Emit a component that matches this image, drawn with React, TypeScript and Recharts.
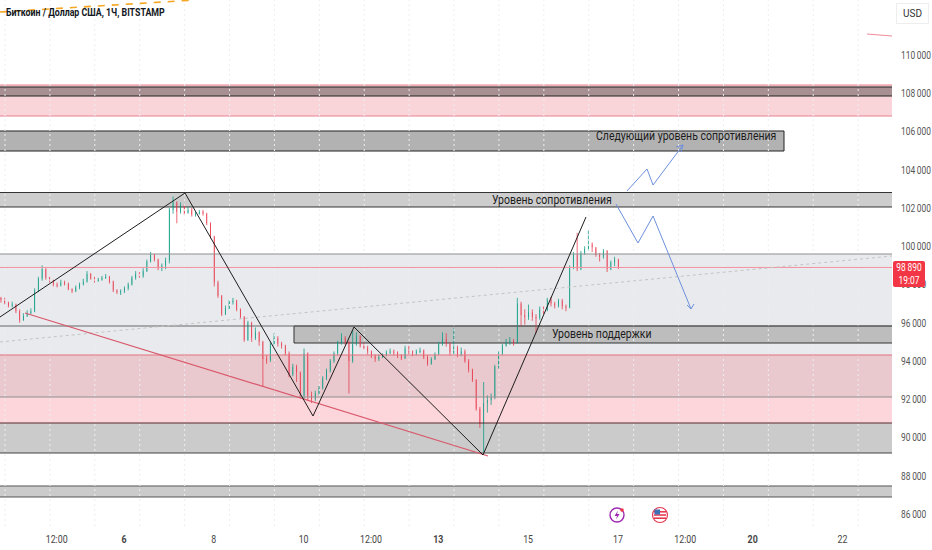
import { ComposedChart, Bar, Line, XAxis, YAxis, ReferenceArea, ReferenceLine } from 'recharts';

// ─── Candles: one entry every two hours ───────────────────────────────────────
const firstDay = 3.26;
const candleStep = 1 / 12;
const firstOpen = 97300;
const closes = [
  97200, 97050, 96900, 96950, 96600, 96140, 96350, 96500, 96600, 97700,
  98300, 98800, 98350, 98200, 98000, 97950, 98100, 98050, 97750, 97650,
  97850, 98000, 98150, 98550, 98300, 98200, 98250, 98350, 98400, 98150,
  97700, 97600, 97650, 97800, 98000, 98350, 98550, 98450, 98700, 99200,
  99550, 99300, 98850, 99000, 99250, 101900, 102300, 101800, 102150, 101750,
  101900, 101650, 101700, 101800, 101700, 101200, 100500, 98100, 97400, 96450,
  96750, 97100, 97150, 96700, 96300, 95100, 96000, 95200, 95500, 95000,
  94100, 94050, 94900, 95200, 94900, 94800, 94400, 93300, 93700, 93400,
  92200, 94400, 92200, 92000, 92300, 92600, 93100, 93500, 94000, 94400,
  94950, 95200, 95000, 94000, 94900, 95300, 94800, 94700, 94500, 94250,
  94100, 94200, 94300, 94450, 94500, 94450, 94300, 94150, 94650, 94500,
  94400, 94500, 94550, 94200, 93850, 94100, 94350, 94900, 95150, 94900,
  94450, 94700, 94350, 94500, 94000, 93550, 93000, 91500, 90700, 91800,
  91950, 92100, 93700, 94400, 94800, 95000, 95050, 94950, 97000, 96400,
  96300, 96550, 96300, 96250, 96700, 96650, 97200, 97000, 96900, 97150,
  96850, 96800, 98900, 99550, 98800, 99650, 99850, 100100, 99950, 99550,
  99450, 99750, 98800, 99150, 99300, 98890,
];
const highs = [
  97350, 97300, 97100, 97100, 97000, 96700, 96500, 96650, 96750, 97800,
  98400, 99000, 98850, 98400, 98250, 98100, 98250, 98200, 98100, 97800,
  97950, 98100, 98300, 98700, 98600, 98400, 98350, 98450, 98550, 98450,
  98200, 97750, 97750, 97900, 98100, 98450, 98700, 98650, 98850, 99300,
  99700, 99600, 99350, 99100, 99400, 102000, 102600, 102350, 102300, 102200,
  102050, 102000, 101800, 101900, 101900, 101750, 101250, 100550, 98200, 97450,
  96900, 97200, 97300, 97200, 96750, 96350, 96100, 96050, 95750, 95550,
  95050, 94300, 95000, 95450, 95300, 95000, 94850, 94500, 93850, 93800,
  93450, 94650, 94450, 92400, 92450, 92700, 93200, 93600, 94100, 94500,
  95050, 95450, 95300, 95050, 95600, 95500, 95350, 94950, 94800, 94550,
  94350, 94350, 94400, 94550, 94650, 94600, 94500, 94350, 94800, 94800,
  94550, 94600, 94700, 94600, 94300, 94200, 94450, 95000, 95500, 95450,
  94950, 95700, 94800, 94700, 94600, 94100, 93600, 93050, 91600, 92900,
  92200, 92300, 93800, 94500, 94900, 95150, 95250, 95150, 97300, 97100,
  96700, 96950, 96700, 96450, 96850, 96850, 97300, 97350, 97100, 97250,
  97250, 96950, 99000, 99700, 100700, 99750, 100000, 100850, 100200, 99950,
  99650, 99850, 99800, 99250, 99450, 99350,
];
const lows = [
  97050, 96950, 96800, 96800, 96500, 96000, 96100, 96300, 96450, 96550,
  97600, 98200, 98250, 98100, 97900, 97850, 97900, 97950, 97700, 97550,
  97600, 97750, 97950, 98100, 98250, 98100, 98150, 98200, 98300, 98050,
  97600, 97500, 97450, 97550, 97700, 97950, 98250, 98350, 98350, 98650,
  99150, 99200, 98750, 98700, 98800, 99100, 101700, 101200, 101700, 101650,
  101700, 101550, 101550, 101650, 101600, 101100, 100400, 97900, 97300, 96350,
  96400, 96700, 96950, 96600, 96200, 95000, 95050, 95000, 95100, 94800,
  92640, 93850, 93950, 94800, 94750, 94650, 94300, 93150, 93200, 92900,
  92050, 92000, 91950, 91800, 91900, 92200, 92500, 93000, 93400, 93900,
  94300, 94850, 94850, 92300, 93900, 94800, 94700, 94600, 94350, 94150,
  93950, 94000, 94150, 94250, 94350, 94300, 94150, 94050, 94100, 94350,
  94250, 94300, 94400, 94100, 93750, 93800, 94050, 94300, 94800, 94750,
  94300, 94350, 94200, 94250, 93900, 93400, 92900, 91400, 90500, 89240,
  91300, 91700, 92000, 93600, 94300, 94750, 94850, 94800, 94900, 95800,
  95900, 96150, 96100, 95450, 96150, 96450, 96600, 96850, 96750, 96800,
  96700, 96600, 96750, 98800, 98700, 98750, 99550, 99750, 99700, 99450,
  99200, 99350, 98650, 98750, 98950, 98800,
];

// ─── Axes ─────────────────────────────────────────────────────────────────────
const dayDomain = [3.238, 23.104];
const priceDomain = [85371, 112876];
const priceTicks = [86000, 88000, 90000, 92000, 94000, 96000, 98000, 100000, 102000, 104000, 106000, 108000, 110000];
const dayTicks = [4.5, 6, 8, 10, 11.5, 13, 15, 17, 18.5, 20, 22];
const dayLabels = ['12:00', '6', '8', '10', '12:00', '13', '15', '17', '12:00', '20', '22'];
const boldLabels = ['6', '13', '20'];
const gridDays = [3.35, 4.35, 5.35, 6.35, 7.35, 8.35, 9.35, 10.35, 11.35, 12.35, 13.35, 14.35, 15.35, 16.35, 17.35, 18.35, 19.35, 20.35, 21.35, 22.35];

// ─── Drawn levels and lines ───────────────────────────────────────────────────
const lastPrice = 98890;
const zigzag = [
  { day: 3.238, price: 96300 },
  { day: 7.358, price: 102784 },
  { day: 10.209, price: 91123 },
  { day: 11.122, price: 95777 },
  { day: 13.995, price: 89084 },
  { day: 16.289, price: 101529 },
];
const redTrend = [{ day: 3.795, price: 96509 }, { day: 14.107, price: 89032 }];
const greyTrend = [{ day: 3.238, price: 94993 }, { day: 23.104, price: 99490 }];
const orangeTrend = [{ day: 3.238, price: 112248 }, { day: 7.536, price: 112870 }];
const redStub = [{ day: 22.547, price: 111098 }, { day: 23.104, price: 110994 }];
const blueUp = [
  { day: 17.202, price: 102889 },
  { day: 17.648, price: 104039 },
  { day: 17.782, price: 103202 },
  { day: 18.45, price: 105294 },
];
const blueUpHead = [{ day: 18.294, price: 105189 }, { day: 18.45, price: 105294 }, { day: 18.405, price: 104928 }];
const blueDown = [
  { day: 16.957, price: 102209 },
  { day: 17.447, price: 100170 },
  { day: 17.782, price: 101581 },
  { day: 18.628, price: 96718 },
];
const blueDownHead = [{ day: 18.539, price: 96928 }, { day: 18.628, price: 96718 }, { day: 18.694, price: 96980 }];

const candles = closes.map((close, i) => ({
  day: firstDay + i * candleStep,
  open: i === 0 ? firstOpen : closes[i - 1],
  close,
  range: [lows[i], highs[i]],
}));

const GREEN = '#089981';
const RED = '#e8364a';
const BLUE = '#6d8fdc';
const FONT = 'Roboto, sans-serif';

function Candle(props: any) {
  const { x, y, width, height, payload } = props;
  const [low, high] = payload.range;
  const up = payload.close >= payload.open;
  const color = up ? GREEN : RED;
  const top = Math.min(y, y + height);
  const h = Math.abs(height);
  const perPrice = h / (high - low || 1);
  const bodyTop = top + (high - Math.max(payload.open, payload.close)) * perPrice;
  const bodyH = Math.max(1.5, Math.abs(payload.close - payload.open) * perPrice);
  const mid = x + width / 2;
  return (
    <g>
      <line x1={mid} x2={mid} y1={top} y2={top + h} stroke={color} strokeOpacity={0.75} strokeWidth={1} />
      <rect x={x} y={bodyTop} width={width} height={bodyH} fill={color} />
    </g>
  );
}

// the reference text is squeezed sideways, so the axis labels are too
function DayTick(props: any) {
  const { x, y, index } = props;
  const label = dayLabels[index];
  return (
    <text transform={`translate(${x},${y + 9}) scale(0.8,1)`} textAnchor="middle" fontSize={11} fontFamily={FONT}
      fontWeight={boldLabels.includes(label) ? 700 : 400} fill="#444">
      {label}
    </text>
  );
}

function PriceTick(props: any) {
  const { x, y, payload } = props;
  const label = String(payload.value).replace(/(\d{3})$/, '\u2009$1');
  return (
    <text transform={`translate(${x + 7},${y + 4}) scale(0.8,1)`} fontSize={10.5} fontFamily={FONT} fill="#555">
      {label}
    </text>
  );
}

const noteStyle = { position: 'absolute', fontFamily: FONT, fontSize: 13, color: '#1c1c1c', whiteSpace: 'nowrap', lineHeight: '14px', transform: 'scaleX(0.807)', transformOrigin: 'left center' } as const;

export default function App() {
  return (
    <div style={{ position: 'absolute', left: 0, top: 0, width: 932, height: 550, background: '#fff', overflow: 'hidden' }}>
      <ComposedChart width={932} height={550} data={candles} margin={{ top: 0, right: 0, bottom: 0, left: 0 }}>
        <XAxis dataKey="day" type="number" domain={dayDomain} ticks={dayTicks} interval={0} height={24}
          axisLine={false} tickLine={false} tick={<DayTick />} />
        <YAxis orientation="right" domain={priceDomain} ticks={priceTicks} interval={0} width={40}
          axisLine={false} tickLine={false} tickSize={0} tick={<PriceTick />} />

        {gridDays.map((d) => (
          <ReferenceLine key={d} x={d} stroke="#eceef3" strokeDasharray="2 3" />
        ))}

        <ReferenceArea x1={3} x2={24} y1={106810} y2={108431} ifOverflow="hidden" fill="#f9d5da" fillOpacity={1} stroke="#e8808e" strokeWidth={1} />
        <ReferenceArea x1={3} x2={24} y1={107856} y2={108327} ifOverflow="hidden" fill="#a88f92" fillOpacity={1} stroke="#222" strokeWidth={1} />
        <ReferenceArea x1={3} x2={20.699} y1={104980} y2={106026} ifOverflow="hidden" fill="#b2b2b2" fillOpacity={1} stroke="#222" strokeWidth={1} />
        <ReferenceArea x1={3} x2={24} y1={102052} y2={102810} ifOverflow="hidden" fill="#cdcdcd" fillOpacity={1} stroke="#333" strokeWidth={1} />
        <ReferenceArea y1={94313} y2={99594} fill="#e9eaed" fillOpacity={1} />
        <ReferenceLine y={99594} stroke="#8d8d8d" strokeWidth={1.2} />
        <ReferenceLine y={95829} stroke="#666" strokeWidth={1.2} />
        <ReferenceArea x1={9.786} x2={24} y1={94940} y2={95829} ifOverflow="hidden" fill="#bdbdbd" fillOpacity={1} stroke="#333" strokeWidth={1} />
        <ReferenceArea y1={92117} y2={94313} fill="#e9c9cd" fillOpacity={1} />
        <ReferenceArea y1={90757} y2={92117} fill="#fcd6da" fillOpacity={1} />
        <ReferenceArea y1={89189} y2={90757} fill="#cbcbcb" fillOpacity={1} />
        <ReferenceLine y={94313} stroke="#e4707f" strokeWidth={1.2} />
        <ReferenceLine y={92117} stroke="#8f8f8f" strokeWidth={1.2} />
        <ReferenceLine y={90757} stroke="#5a2a30" strokeWidth={1.2} />
        <ReferenceLine y={89189} stroke="#444" strokeWidth={1.2} />
        <ReferenceArea x1={3} x2={24} y1={86888} y2={87463} ifOverflow="hidden" fill="#cbcbcb" fillOpacity={1} stroke="#555" strokeWidth={1} />
        <ReferenceLine y={lastPrice} stroke="#f4929f" strokeWidth={1} />

        <Line data={greyTrend} dataKey="price" dot={false} stroke="#c4c4c4" strokeWidth={1} strokeDasharray="3 3" isAnimationActive={false} />
        <Bar dataKey="range" barSize={3} shape={<Candle />} isAnimationActive={false} />
        <Line data={redTrend} dataKey="price" dot={false} stroke="#d9576b" strokeWidth={1.2} isAnimationActive={false} />
        <Line data={zigzag} dataKey="price" dot={false} stroke="#1d1d1d" strokeWidth={1} isAnimationActive={false} />
        <Line data={orangeTrend} dataKey="price" dot={false} stroke="#f5a623" strokeWidth={1.6} strokeDasharray="7 7" isAnimationActive={false} />
        <Line data={redStub} dataKey="price" dot={false} stroke="#ee8c9b" strokeWidth={1.2} isAnimationActive={false} />
        <Line data={blueUp} dataKey="price" dot={false} stroke={BLUE} strokeWidth={1} isAnimationActive={false} />
        <Line data={blueUpHead} dataKey="price" dot={false} stroke={BLUE} strokeWidth={1} isAnimationActive={false} />
        <Line data={blueDown} dataKey="price" dot={false} stroke={BLUE} strokeWidth={1} isAnimationActive={false} />
        <Line data={blueDownHead} dataKey="price" dot={false} stroke={BLUE} strokeWidth={1} isAnimationActive={false} />
      </ComposedChart>

      <div style={{ position: 'absolute', left: 6, top: 6, fontFamily: FONT, fontSize: 11, fontWeight: 700, color: '#131722', whiteSpace: 'nowrap', lineHeight: '14px', transform: 'scaleX(0.8)', transformOrigin: 'left center' }}>
        Биткоин / Доллар США, 1Ч, BITSTAMP
      </div>
      <div style={{ ...noteStyle, left: 596, top: 129 }}>Следующий уровень сопротивления</div>
      <div style={{ ...noteStyle, left: 492, top: 193 }}>Уровень сопротивления</div>
      <div style={{ ...noteStyle, left: 552, top: 327 }}>Уровень поддержки</div>

      <div style={{ position: 'absolute', left: 896, top: 3, width: 33, height: 21, border: '1px solid #eeeeee', boxSizing: 'border-box', textAlign: 'center', fontFamily: FONT, fontSize: 10, lineHeight: '19px', color: '#333' }}>USD</div>
      <div style={{ position: 'absolute', left: 893, top: 261, width: 32, height: 26, background: '#f23645', borderRadius: 2, color: '#fff', fontFamily: FONT, fontSize: 10.5, lineHeight: '13px' }}>
        <div style={{ transform: 'scaleX(0.8)', whiteSpace: 'nowrap', textAlign: 'center' }}>98{'\u2009'}890</div>
        <div style={{ transform: 'scaleX(0.8)', whiteSpace: 'nowrap', textAlign: 'center' }}>19:07</div>
      </div>

      <svg width={18} height={18} style={{ position: 'absolute', left: 608, top: 506 }} viewBox="0 0 18 18">
        <circle cx={9} cy={9} r={7} fill="#fff" stroke="#9c27b0" strokeWidth={1.4} />
        <path d="M10 4.5 L6.5 10 H9 L8 13.5 L11.5 8 H9 Z" fill="#9c27b0" />
        <circle cx={14} cy={4} r={1.8} fill="#f23645" />
      </svg>
      <svg width={18} height={18} style={{ position: 'absolute', left: 651, top: 506 }} viewBox="0 0 18 18">
        <circle cx={9} cy={9} r={7.5} fill="#fff" stroke="#e53950" strokeWidth={1.2} />
        <rect x={3} y={5} width={12} height={1.6} fill="#e53950" />
        <rect x={3} y={8.2} width={12} height={1.6} fill="#e53950" />
        <rect x={3} y={11.4} width={12} height={1.6} fill="#e53950" />
        <rect x={3.5} y={3.5} width={5.5} height={5} fill="#3f6fb5" />
      </svg>
    </div>
  );
}
